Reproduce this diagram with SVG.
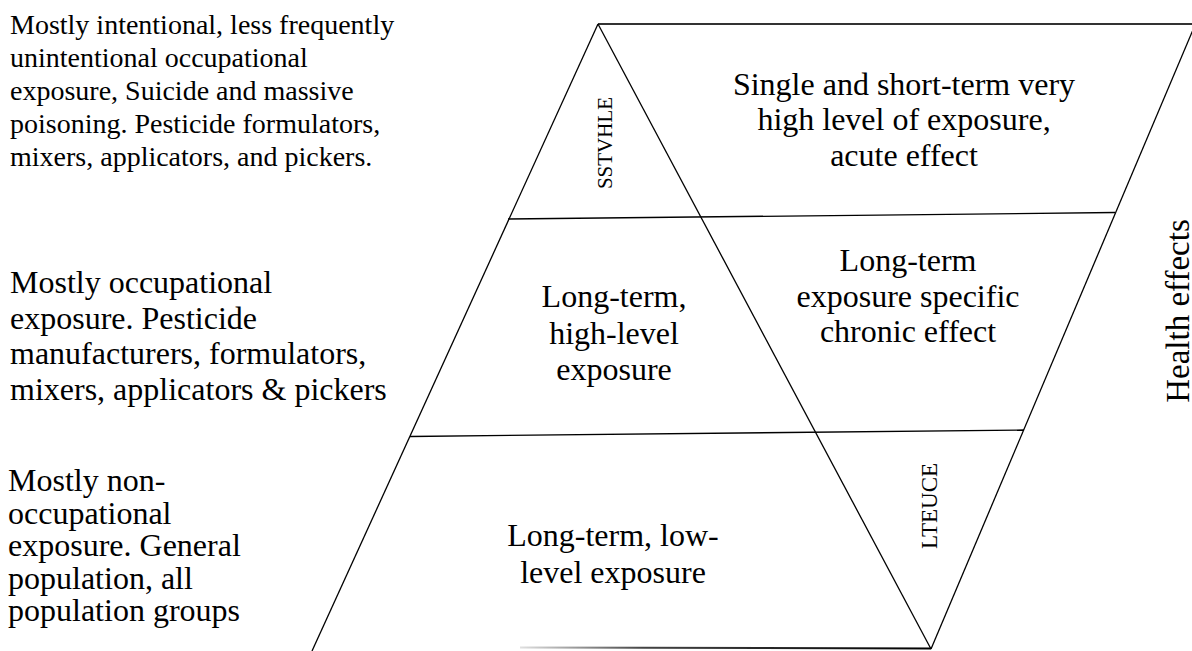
<svg xmlns="http://www.w3.org/2000/svg" width="1192" height="651" viewBox="0 0 1192 651">
<style>
.t{font-family:"Liberation Serif","Times New Roman",serif;fill:#000}
.l{font-size:28px}
.m{font-size:32px}
.c{font-size:32px;text-anchor:middle}
.r{text-anchor:middle}
.ln{stroke:#000;stroke-width:1.3;fill:none}
</style>
<defs>
<linearGradient id="bg" x1="520" y1="0" x2="931" y2="0" gradientUnits="userSpaceOnUse">
<stop offset="0" stop-color="#e0e0e0"/>
<stop offset="0.3" stop-color="#444"/>
<stop offset="1" stop-color="#000"/>
</linearGradient>
</defs>
<rect width="1192" height="651" fill="#fff"/>
<g id="connectors">
<line x1="598" y1="24" x2="1192" y2="24" stroke="#333" stroke-width="2"/>
<line class="ln" x1="598" y1="24" x2="312" y2="651"/>
<line class="ln" x1="598" y1="24" x2="931" y2="649"/>
<line class="ln" x1="1195" y1="25" x2="931" y2="649"/>
<line class="ln" x1="508" y1="219" x2="1115" y2="212.5"/>
<line class="ln" x1="410" y1="436.5" x2="1024" y2="430"/>
<line x1="520" y1="647.5" x2="931" y2="648.5" stroke="url(#bg)" stroke-width="2"/>
</g>
<g id="left-top">
<text class="t l" x="10" y="34">Mostly intentional, less frequently</text>
<text class="t l" x="10" y="67">unintentional occupational</text>
<text class="t l" x="10" y="100">exposure, Suicide and massive</text>
<text class="t l" x="10" y="133">poisoning. Pesticide formulators,</text>
<text class="t l" x="10" y="166">mixers, applicators, and pickers.</text>
</g>
<g id="left-middle">
<text class="t m" x="10" y="293">Mostly occupational</text>
<text class="t m" x="10" y="329">exposure. Pesticide</text>
<text class="t m" x="10" y="364">manufacturers, formulators,</text>
<text class="t m" x="10" y="400">mixers, applicators &amp; pickers</text>
</g>
<g id="left-bottom">
<text class="t m" x="8" y="491">Mostly non-</text>
<text class="t m" x="8" y="524">occupational</text>
<text class="t m" x="8" y="556">exposure. General</text>
<text class="t m" x="8" y="589">population, all</text>
<text class="t m" x="8" y="621">population groups</text>
</g>
<g id="acute">
<text class="t c" x="904" y="95">Single and short-term very</text>
<text class="t c" x="904" y="130">high level of exposure,</text>
<text class="t c" x="904" y="166">acute effect</text>
</g>
<g id="chronic">
<text class="t c" x="908" y="271">Long-term</text>
<text class="t c" x="908" y="307">exposure specific</text>
<text class="t c" x="908" y="342">chronic effect</text>
</g>
<g id="high-level">
<text class="t c" x="614" y="307">Long-term,</text>
<text class="t c" x="614" y="344">high-level</text>
<text class="t c" x="614" y="380">exposure</text>
</g>
<g id="low-level">
<text class="t c" x="613" y="546">Long-term, low-</text>
<text class="t c" x="613" y="583">level exposure</text>
</g>
<g id="sstvhle">
<text class="t r" transform="translate(612,143) rotate(-90)" style="font-size:21px">SSTVHLE</text>
</g>
<g id="lteuce">
<text class="t r" transform="translate(937,506) rotate(-90)" style="font-size:23px">LTEUCE</text>
</g>
<g id="health-effects">
<text class="t r" transform="translate(1189,311) rotate(-90)" style="font-size:33px">Health effects</text>
</g>
</svg>
